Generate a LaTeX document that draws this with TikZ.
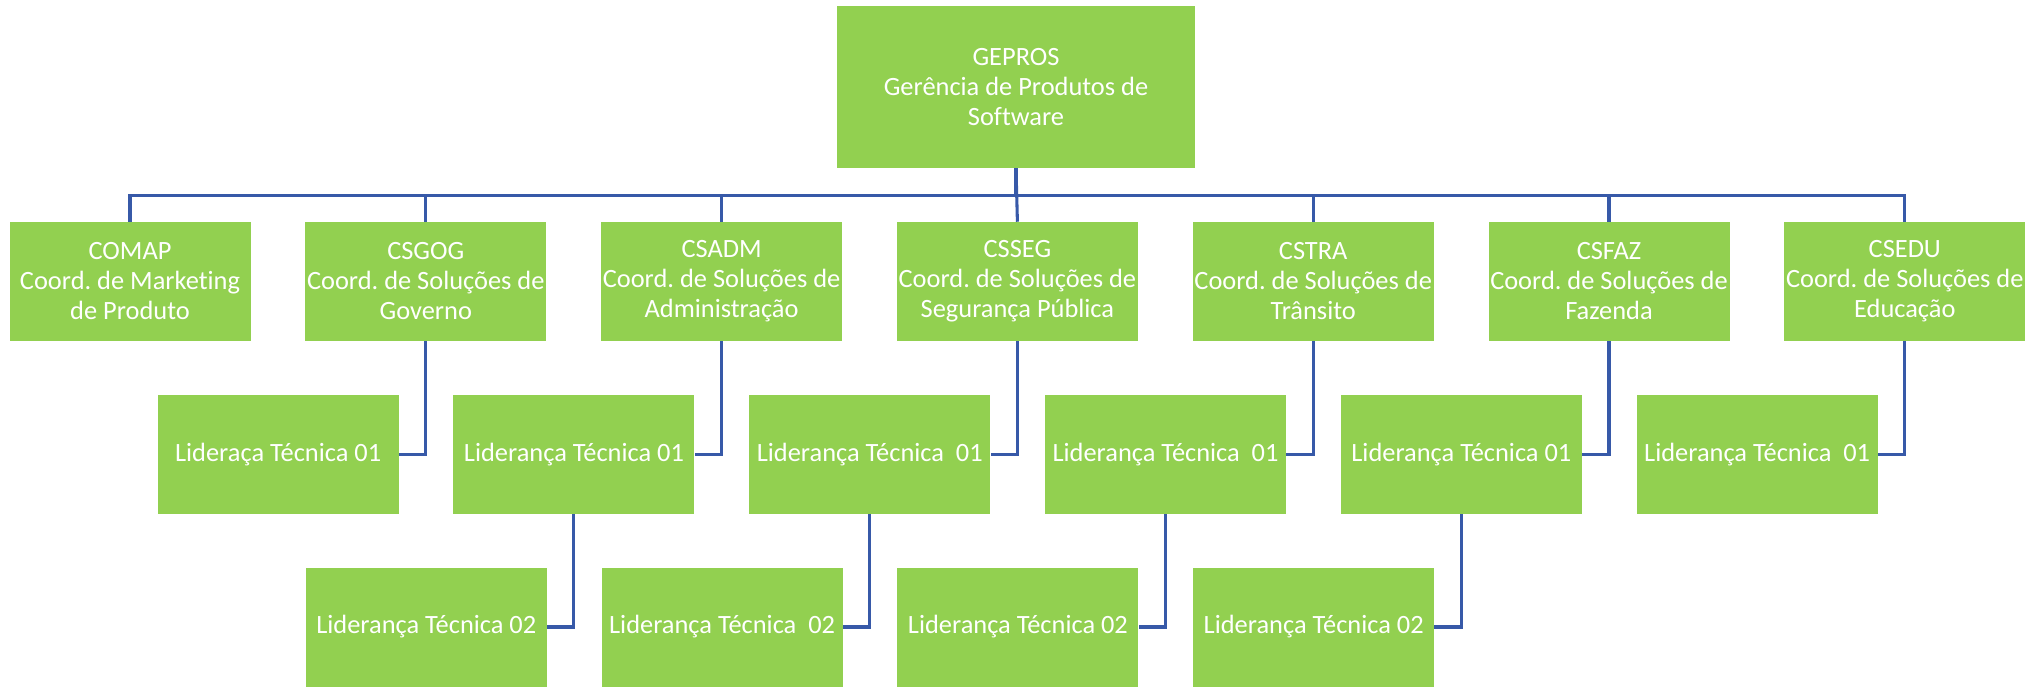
\documentclass[tikz,border=0pt]{standalone}
\usepackage{fontspec}
\setmainfont{Carlito}[Ligatures=NoCommon]
\usetikzlibrary{positioning,calc}
\definecolor{boxgreen}{RGB}{146,208,80}
\definecolor{linkblue}{RGB}{55,89,168}
\frenchspacing

\begin{document}
\begin{tikzpicture}[x=0.75pt,y=-0.75pt,
  unit/.style={fill=boxgreen, text=white, align=center, inner sep=0pt, font=\fontsize{19.8pt}{22.5pt}\selectfont},
  coord/.style={unit, minimum width=180.75pt, minimum height=89.25pt},
  head/.style={unit, minimum width=268.5pt, minimum height=121.5pt},
  link/.style={draw=linkblue, line width=2.3pt}]
\useasboundingbox (0,0) rectangle (2044,686);
% top
\node[head] (GEPROS) at (1016,87) {GEPROS\\Gerência de Produtos de\\Software};
% coordinators
\node[coord] (COMAP) at (130,281.5) {COMAP\\Coord. de Marketing\\de Produto};
\node[coord, right=40.7pt of COMAP] (CSGOG) {CSGOG\\Coord. de Soluções de\\Governo};
\node[coord, right=40.7pt of CSGOG] (CSADM) {CSADM\\Coord. de Soluções de\\Administração};
\node[coord, right=40.7pt of CSADM] (CSSEG) {CSSEG\\Coord. de Soluções de\\Segurança Pública};
\node[coord, right=40.7pt of CSSEG] (CSTRA) {CSTRA\\Coord. de Soluções de\\Trânsito};
\node[coord, right=40.7pt of CSTRA] (CSFAZ) {CSFAZ\\Coord. de Soluções de\\Fazenda};
\node[coord, right=40.7pt of CSFAZ] (CSEDU) {CSEDU\\Coord. de Soluções de\\Educação};
% first leads
\node[coord] (LT1GOG) at ($(CSGOG)+(-147.65,173)$) {Lideraça Técnica 01};
\node[coord] (LT1ADM) at ($(CSADM)+(-147.65,173)$) {Liderança Técnica 01};
\node[coord] (LT1SEG) at ($(CSSEG)+(-147.65,173)$) {Liderança Técnica\ \ 01};
\node[coord] (LT1TRA) at ($(CSTRA)+(-147.65,173)$) {Liderança Técnica\ \ 01};
\node[coord] (LT1FAZ) at ($(CSFAZ)+(-147.65,173)$) {Liderança Técnica 01};
\node[coord] (LT1EDU) at ($(CSEDU)+(-147.65,173)$) {Liderança Técnica\ \ 01};
% second leads
\node[coord] (LT2ADM) at ($(LT1ADM)+(-147.65,172.5)$) {Liderança Técnica 02};
\node[coord] (LT2SEG) at ($(LT1SEG)+(-147.65,172.5)$) {Liderança Técnica\ \ 02};
\node[coord] (LT2TRA) at ($(LT1TRA)+(-147.65,172.5)$) {Liderança Técnica 02};
\node[coord] (LT2FAZ) at ($(LT1FAZ)+(-147.65,172.5)$) {Liderança Técnica 02};
% links
\draw[link] (GEPROS.south) -- ++(0,27) -| (COMAP.north);
\draw[link] (GEPROS.south) -- ++(0,27) -| (CSGOG.north);
\draw[link] (GEPROS.south) -- ++(0,27) -| (CSADM.north);
\draw[link] (GEPROS.south) -- (CSSEG.north);
\draw[link] (GEPROS.south) -- ++(0,27) -| (CSTRA.north);
\draw[link] (GEPROS.south) -- ++(0,27) -| (CSFAZ.north);
\draw[link] (GEPROS.south) -- ++(0,27) -| (CSEDU.north);
\draw[link] (CSGOG.south) |- (LT1GOG.east);
\draw[link] (CSADM.south) |- (LT1ADM.east);
\draw[link] (CSSEG.south) |- (LT1SEG.east);
\draw[link] (CSTRA.south) |- (LT1TRA.east);
\draw[link] (CSFAZ.south) |- (LT1FAZ.east);
\draw[link] (CSEDU.south) |- (LT1EDU.east);
\draw[link] (LT1ADM.south) |- (LT2ADM.east);
\draw[link] (LT1SEG.south) |- (LT2SEG.east);
\draw[link] (LT1TRA.south) |- (LT2TRA.east);
\draw[link] (LT1FAZ.south) |- (LT2FAZ.east);
\end{tikzpicture}
\end{document}
